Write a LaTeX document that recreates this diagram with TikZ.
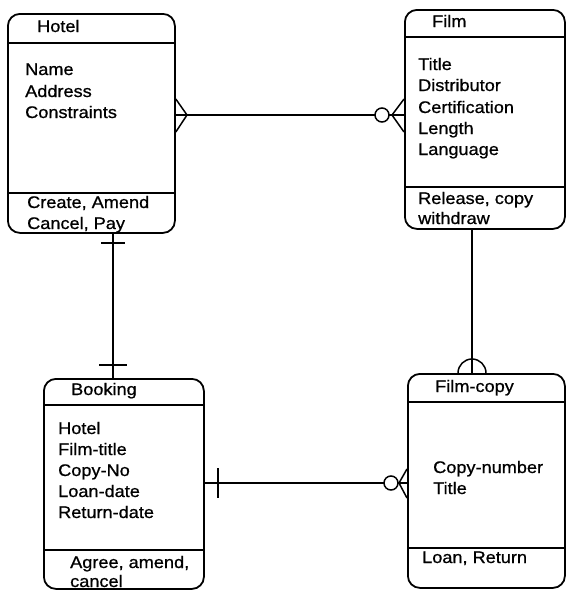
\documentclass[tikz,border=0pt]{standalone}
\usepackage{fontspec}
\setmainfont{Liberation Sans}[FakeStretch=1.08, FakeBold=0.8]
\begin{document}
\begin{tikzpicture}[x=1pt,y=-1pt,
  entity/.style={draw, line width=1.8pt, rounded corners=12pt, anchor=north west, inner sep=0pt},
  sep/.style={line width=1.7pt},
  rel/.style={line width=1.5pt},
  txt/.style={anchor=base west, inner sep=0pt, font=\fontsize{16.8}{21}\selectfont}]
\useasboundingbox (0,0) rectangle (566,590);

% entity boxes
\node[entity, minimum width=167pt, minimum height=219pt] (hotel) at (7,13) {};
\node[entity, minimum width=160pt, minimum height=219pt] (film) at (404,9) {};
\node[entity, minimum width=160pt, minimum height=210pt] (booking) at (43,378) {};
\node[entity, minimum width=157pt, minimum height=214pt] (copy) at (407,373) {};

% compartment rules
\draw[sep] (hotel.west |- 0,43) -- (hotel.east |- 0,43);
\draw[sep] (hotel.west |- 0,193) -- (hotel.east |- 0,193);
\draw[sep] (film.west |- 0,37) -- (film.east |- 0,37);
\draw[sep] (film.west |- 0,187) -- (film.east |- 0,187);
\draw[sep] (booking.west |- 0,405) -- (booking.east |- 0,405);
\draw[sep] (booking.west |- 0,550) -- (booking.east |- 0,550);
\draw[sep] (copy.west |- 0,402) -- (copy.east |- 0,402);
\draw[sep] (copy.west |- 0,548) -- (copy.east |- 0,548);

% Hotel
\node[txt] (hotelT) at (37,32) {Hotel};
\node[txt] (hotelA1) at (25,75) {Name};
\node[txt] (hotelA2) at (25,97) {Address};
\node[txt] (hotelA3) at (25,118) {Constraints};
\node[txt] (hotelO1) at (27,208) {Create, Amend};
\node[txt] (hotelO2) at (27,229) {Cancel, Pay};

% Film
\node[txt] (filmT) at (432,27) {Film};
\node[txt] (filmA1) at (418,70) {Title};
\node[txt] (filmA2) at (418,91) {Distributor};
\node[txt] (filmA3) at (418,113) {Certification};
\node[txt] (filmA4) at (418,134) {Length};
\node[txt] (filmA5) at (418,155) {Language};
\node[txt] (filmO1) at (418,204) {Release, copy};
\node[txt] (filmO2) at (418,224) {withdraw};

% Booking
\node[txt] (bookT) at (71,395) {Booking};
\node[txt] (bookA1) at (58,434) {Hotel};
\node[txt] (bookA2) at (58,455) {Film-title};
\node[txt] (bookA3) at (58,476) {Copy-No};
\node[txt] (bookA4) at (58,497) {Loan-date};
\node[txt] (bookA5) at (58,518) {Return-date};
\node[txt] (bookO1) at (70,568) {Agree, amend,};
\node[txt] (bookO2) at (70,587) {cancel};

% Film-copy
\node[txt] (copyT) at (435,392) {Film-copy};
\node[txt] (copyA1) at (433,473) {Copy-number};
\node[txt] (copyA2) at (433,494) {Title};
\node[txt] (copyO1) at (422,563) {Loan, Return};

% Hotel -- Film : many to zero-or-many
\coordinate (hfL) at (hotel.east |- 0,115);
\coordinate (hfR) at (film.west |- 0,115);
\draw[rel] (hfL) -- (hfR);
\draw[rel] (hotel.east |- 0,99) -- (187,115) -- (hotel.east |- 0,132);
\draw[rel] (film.west |- 0,99) -- (392,115) -- (film.west |- 0,132);
\draw[rel, fill=white] (382,115) circle[radius=7];

% Hotel -- Booking : one to one
\coordinate (hbT) at (113,0 |- hotel.south);
\coordinate (hbB) at (113,0 |- booking.north);
\draw[rel] (hbT) -- (hbB);
\draw[rel] (101,243) -- (125,243);
\draw[rel] (99,365) -- (127,365);

% Booking -- Film-copy : one to zero-or-many
\coordinate (bcL) at (booking.east |- 0,483);
\coordinate (bcR) at (copy.west |- 0,483);
\draw[rel] (bcL) -- (bcR);
\draw[rel] (218,468) -- (218,498);
\draw[rel] (copy.west |- 0,469) -- (399,483) -- (copy.west |- 0,498);
\draw[rel, fill=white] (391,483) circle[radius=7];

% Film -- Film-copy : optional
\coordinate (fcT) at (472,0 |- film.south);
\coordinate (fcB) at (472,0 |- copy.north);
\draw[rel] (fcT) -- (fcB);
\draw[rel] (fcB) ++(-14,0) arc[start angle=180, end angle=360, radius=14];
\end{tikzpicture}
\end{document}
